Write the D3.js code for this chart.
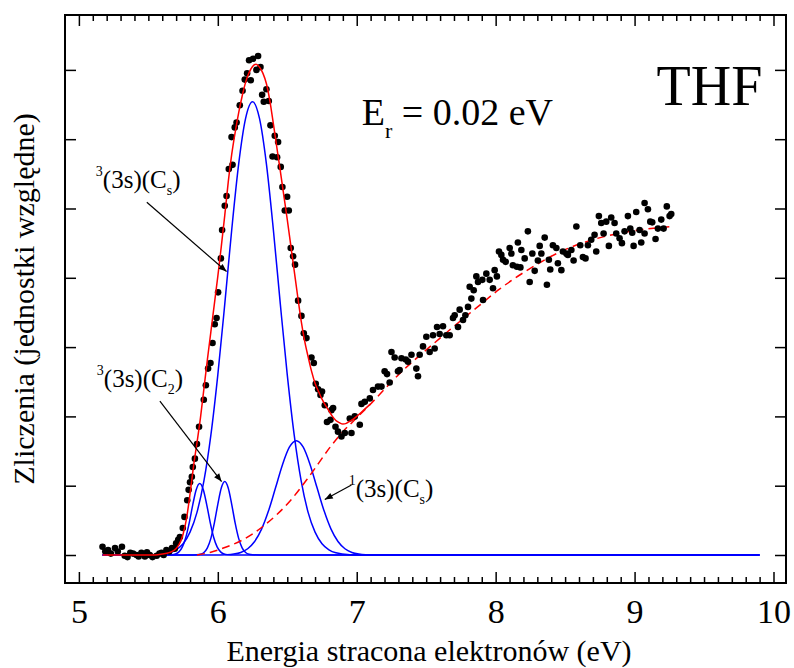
<!DOCTYPE html>
<html>
<head>
<meta charset="utf-8">
<script src="https://cdn.jsdelivr.net/npm/d3@7"></script>
</head>
<body style="margin:0;background:#fff">
<svg id="chart" width="794" height="668"></svg>
<script>
const serif = 'Liberation Serif';

// energia (eV) / zliczenia (j. wzgl.)
const xTicks = [5, 6, 7, 8, 9, 10];
const yTicks = [0, 1, 2, 3, 4, 5, 6, 7];

const measured = [
  [5.17,0.12],[5.19,0.05],[5.21,0.07],[5.23,0.02],[5.26,0.10],[5.28,0.05],[5.31,0.12],[5.33,-0.01],
  [5.35,-0.03],[5.37,0.03],[5.39,0.02],[5.415,0.00],[5.43,-0.02],[5.45,0.03],[5.475,-0.02],[5.49,0.04],
  [5.51,0.00],[5.53,-0.03],[5.56,-0.01],[5.58,0.02],[5.595,0.03],[5.61,0.00],[5.63,0.07],[5.65,0.05],
  [5.67,0.10],[5.69,0.09],[5.70,0.17],[5.715,0.22],[5.727,0.26],[5.748,0.39],[5.76,0.55],[5.78,0.79],
  [5.79,0.94],[5.80,1.05],[5.813,1.13],[5.82,1.27],[5.835,1.39],[5.85,1.60],[5.865,1.85],[5.899,2.24],
  [5.914,2.45],[5.930,2.69],[5.947,2.77],[5.962,3.06],[5.978,3.33],[5.991,3.42],[6.002,3.79],[6.022,4.28],
  [6.031,4.69],[6.050,5.04],[6.063,5.18],[6.079,5.57],[6.099,6.03],[6.106,5.63],[6.122,6.17],[6.135,6.24],
  [6.158,6.49],[6.178,6.70],[6.194,6.86],[6.211,6.95],[6.225,7.14],[6.237,6.85],[6.254,7.16],[6.278,7.00],
  [6.290,7.20],[6.307,7.04],[6.319,6.64],[6.331,6.54],[6.350,6.72],[6.367,6.55],[6.379,6.20],[6.394,5.75],
  [6.410,6.05],[6.427,5.74],[6.434,5.96],[6.453,5.60],[6.465,5.31],[6.482,4.97],[6.499,5.17],[6.511,4.97],
  [6.525,4.43],[6.542,4.31],[6.556,4.19],[6.578,3.67],[6.602,3.45],[6.619,3.20],[6.638,3.13],[6.674,2.85],
  [6.691,2.77],[6.705,2.47],[6.722,2.39],[6.739,2.31],[6.750,2.36],[6.770,2.16],[6.786,1.92],[6.811,1.95],
  [6.818,2.09],[6.830,2.12],[6.847,1.85],[6.865,1.78],[6.890,1.71],[6.914,1.76],[6.950,1.97],[6.962,1.76],
  [6.986,2.00],[7.022,1.88],[7.034,2.18],[7.058,2.21],[7.094,2.26],[7.117,2.38],[7.153,2.43],[7.178,2.43],
  [7.201,2.65],[7.218,2.61],[7.237,2.49],[7.250,2.93],[7.273,2.85],[7.297,2.65],[7.309,2.67],[7.322,2.84],
  [7.353,2.82],[7.369,2.79],[7.394,2.89],[7.429,2.69],[7.441,2.58],[7.453,2.89],[7.477,3.01],[7.501,3.15],
  [7.525,2.93],[7.549,3.17],[7.561,2.98],[7.578,3.29],[7.597,3.19],[7.621,3.30],[7.645,3.17],[7.669,3.17],
  [7.693,3.42],[7.705,3.46],[7.729,3.29],[7.741,3.54],[7.765,3.39],[7.782,3.46],[7.801,3.58],[7.813,3.87],
  [7.825,3.70],[7.842,3.82],[7.861,4.02],[7.873,3.94],[7.904,3.97],[7.909,3.68],[7.933,4.06],[7.957,3.97],
  [7.981,3.85],[7.993,4.11],[8.009,4.02],[8.024,4.38],[8.041,4.33],[8.053,4.26],[8.072,4.23],[8.101,4.43],
  [8.113,4.35],[8.124,4.18],[8.153,4.16],[8.160,4.51],[8.178,4.15],[8.185,4.40],[8.209,4.28],[8.232,4.67],
  [8.245,3.94],[8.264,4.35],[8.281,4.10],[8.304,4.25],[8.317,4.46],[8.329,4.35],[8.353,4.58],[8.369,3.90],
  [8.383,4.26],[8.393,4.12],[8.412,4.47],[8.437,4.43],[8.448,4.21],[8.473,4.11],[8.484,4.38],[8.509,4.35],
  [8.520,4.33],[8.545,4.40],[8.561,4.25],[8.581,4.74],[8.609,4.47],[8.628,4.30],[8.647,4.28],[8.664,4.47],
  [8.688,4.55],[8.712,4.62],[8.724,4.38],[8.743,4.89],[8.760,4.79],[8.777,4.64],[8.796,4.81],[8.815,4.46],
  [8.832,4.87],[8.856,4.79],[8.868,4.64],[8.892,4.57],[8.909,4.50],[8.928,4.67],[8.952,4.89],[8.969,4.71],
  [8.983,4.65],[8.993,4.46],[9.012,4.95],[9.036,4.69],[9.048,4.51],[9.072,4.64],[9.072,5.08],[9.096,4.99],
  [9.113,4.81],[9.127,4.80],[9.151,4.56],[9.168,4.71],[9.192,4.84],[9.209,4.71],[9.232,5.03],[9.252,4.89],
  [9.264,4.92]
];

// dopasowanie (czerwona linia ciagla)
const fitCurve = [
  [5.17,0],[5.55,0],[5.60,0.013],[5.65,0.034],[5.70,0.093],[5.725,0.168],[5.75,0.30],[5.775,0.53],
  [5.80,0.88],[5.825,1.28],[5.85,1.62],[5.875,1.98],[5.90,2.40],[5.925,2.82],[5.95,3.22],[5.975,3.62],
  [6.00,4.02],[6.025,4.45],[6.05,4.90],[6.075,5.38],[6.10,5.78],[6.125,6.10],[6.15,6.38],[6.175,6.62],
  [6.20,6.82],[6.225,6.96],[6.25,7.05],[6.275,7.08],[6.30,7.04],[6.325,6.95],[6.35,6.80],[6.375,6.55],
  [6.40,6.22],[6.425,5.88],[6.45,5.54],[6.475,5.19],[6.50,4.84],[6.525,4.47],[6.55,4.10],[6.575,3.73],
  [6.60,3.38],[6.625,3.09],[6.65,2.86],[6.675,2.65],[6.70,2.48],[6.725,2.36],[6.75,2.25],[6.775,2.16],
  [6.80,2.08],[6.825,2.00],[6.85,1.94],[6.875,1.91],[6.90,1.89],[6.925,1.90],[6.95,1.93],[6.975,1.96],
  [7.00,2.00],[7.05,2.09],[7.10,2.18]
];

// tlo (czerwona linia przerywana)
const background = [
  [5.85,0],[5.95,0.04],[6.04,0.10],[6.18,0.22],[6.33,0.42],[6.52,0.78],[6.66,1.14],[6.81,1.56],
  [6.90,1.78],[6.97,1.92],[7.10,2.18],[7.29,2.58],[7.60,3.13],[7.79,3.45],[7.87,3.58],[8.03,3.84],
  [8.22,4.10],[8.46,4.37],[8.70,4.55],[8.94,4.66],[9.26,4.74]
];

// skladowe (niebieskie)
const peakTripletCs = [
  [5.17,0],[5.45,0],[5.55,0.005],[5.65,0.032],[5.70,0.075],[5.75,0.163],[5.80,0.33],[5.85,0.615],
  [5.90,1.07],[5.95,1.73],[6.00,2.60],[6.05,3.62],[6.10,4.69],[6.15,5.64],[6.20,6.30],[6.25,6.54],
  [6.30,6.30],[6.35,5.64],[6.40,4.69],[6.45,3.62],[6.50,2.60],[6.55,1.73],[6.60,1.07],[6.65,0.615],
  [6.70,0.33],[6.75,0.163],[6.80,0.075],[6.85,0.032],[6.95,0.005],[7.05,0],[9.90,0]
];
const peakLow = [
  [5.17,0],[5.62,0],[5.67,0.004],[5.695,0.015],[5.72,0.045],[5.745,0.117],[5.77,0.257],[5.795,0.472],
  [5.82,0.728],[5.845,0.944],[5.87,1.03],[5.895,0.944],[5.92,0.728],[5.945,0.472],[5.97,0.257],
  [5.995,0.117],[6.02,0.045],[6.045,0.015],[6.07,0.004],[6.12,0],[9.90,0]
];
const peakTripletC2 = [
  [5.17,0],[5.80,0],[5.85,0.003],[5.875,0.011],[5.90,0.037],[5.925,0.104],[5.95,0.240],[5.975,0.460],
  [6.00,0.731],[6.025,0.966],[6.05,1.06],[6.075,0.966],[6.10,0.731],[6.125,0.460],[6.15,0.240],
  [6.175,0.104],[6.20,0.037],[6.225,0.011],[6.25,0.003],[6.30,0],[9.90,0]
];
const peakSingletCs = [
  [5.17,0],[5.965,0],[6.065,0.004],[6.115,0.013],[6.165,0.037],[6.215,0.090],[6.265,0.194],[6.315,0.373],
  [6.365,0.637],[6.415,0.966],[6.465,1.30],[6.515,1.555],[6.565,1.65],[6.615,1.555],[6.665,1.30],
  [6.715,0.966],[6.765,0.637],[6.815,0.373],[6.865,0.194],[6.915,0.090],[6.965,0.037],[7.015,0.013],
  [7.065,0.004],[7.165,0],[9.90,0]
];

// opisy: [x, y] poczatku tekstu, strzalka od -> do
const stateLabels = [
  { sup: '3', main: '(3s)(C', sub: 's', at: [5.122, 5.30], from: [5.489, 5.09], to: [6.063, 4.09] },
  { sup: '3', main: '(3s)(C', sub: '2', at: [5.129, 2.42], from: [5.583, 2.22], to: [6.027, 1.06] },
  { sup: '1', main: '(3s)(C', sub: 's', at: [6.942, 0.84], from: [6.962, 1.01], to: [6.770, 0.80] }
];

const svg = d3.select('#chart').attr('font-family', serif);

const x = d3.scaleLinear().domain([4.9, 10.09]).range([65, 786]);
const y = d3.scaleLinear().domain([-0.404, 7.792]).range([583, 15]);

const line = d3.line()
  .x(d => x(d[0]))
  .y(d => y(d[1]))
  .curve(d3.curveMonotoneX);

svg.append('defs').append('marker')
  .attr('id', 'arrow')
  .attr('viewBox', '0 0 10 10')
  .attr('refX', 10).attr('refY', 5)
  .attr('markerWidth', 10).attr('markerHeight', 8)
  .attr('markerUnits', 'userSpaceOnUse')
  .attr('orient', 'auto')
  .append('path')
  .attr('d', 'M0,1 L10,5 L0,9 Z')
  .attr('fill', '#000');

// Osie
const minorX = d3.range(50, 101).map(d => d / 10).filter(d => Math.abs(d - Math.round(d)) > 1e-6);

function styleAxis(g) {
  g.attr('font-family', serif);
  g.select('.domain').remove();
  g.selectAll('line').attr('stroke', '#000').attr('stroke-width', 1.5);
}

svg.append('g')
  .attr('transform', 'translate(0,583)')
  .call(d3.axisBottom(x).tickValues(minorX).tickSize(-6).tickFormat(''))
  .call(styleAxis);

svg.append('g')
  .attr('transform', 'translate(0,583)')
  .call(d3.axisBottom(x).tickValues(xTicks).tickSize(-11).tickPadding(16).tickFormat(d3.format('d')))
  .call(styleAxis)
  .call(g => g.selectAll('text')
    .attr('font-size', 34)
    .attr('font-family', serif)
    .attr('fill', '#000'));

svg.append('g')
  .attr('transform', 'translate(0,15)')
  .call(d3.axisTop(x).tickValues(minorX).tickSize(-6).tickFormat(''))
  .call(styleAxis);

svg.append('g')
  .attr('transform', 'translate(0,15)')
  .call(d3.axisTop(x).tickValues(xTicks).tickSize(-11).tickFormat(''))
  .call(styleAxis);

svg.append('g')
  .attr('transform', 'translate(65,0)')
  .call(d3.axisLeft(y).tickValues(yTicks).tickSize(-11).tickFormat(''))
  .call(styleAxis);

svg.append('g')
  .attr('transform', 'translate(786,0)')
  .call(d3.axisRight(y).tickValues(yTicks).tickSize(-11).tickFormat(''))
  .call(styleAxis);

// Krzywe
const plot = svg.append('g');

[peakTripletCs, peakLow, peakTripletC2, peakSingletCs].forEach(p => {
  plot.append('path')
    .datum(p)
    .attr('d', line)
    .attr('fill', 'none')
    .attr('stroke', '#0000ff')
    .attr('stroke-width', 1.5);
});

plot.append('path')
  .datum(background)
  .attr('d', line)
  .attr('fill', 'none')
  .attr('stroke', '#ff0000')
  .attr('stroke-width', 1.5)
  .attr('stroke-dasharray', '8,5');

plot.selectAll('circle')
  .data(measured)
  .enter()
  .append('circle')
  .attr('cx', d => x(d[0]))
  .attr('cy', d => y(d[1]))
  .attr('r', 3.3)
  .attr('fill', '#000');

plot.append('path')
  .datum(fitCurve)
  .attr('d', line)
  .attr('fill', 'none')
  .attr('stroke', '#ff0000')
  .attr('stroke-width', 1.5);

// Ramka
svg.append('rect')
  .attr('x', 65).attr('y', 15)
  .attr('width', 786 - 65).attr('height', 583 - 15)
  .attr('fill', 'none')
  .attr('stroke', '#000')
  .attr('stroke-width', 2);

// Opisy stanow
stateLabels.forEach(l => {
  svg.append('line')
    .attr('x1', x(l.from[0])).attr('y1', y(l.from[1]))
    .attr('x2', x(l.to[0])).attr('y2', y(l.to[1]))
    .attr('stroke', '#000')
    .attr('stroke-width', 1.2)
    .attr('marker-end', 'url(#arrow)');

  const t = svg.append('text')
    .attr('x', x(l.at[0]))
    .attr('y', y(l.at[1]))
    .attr('font-family', serif)
    .attr('font-size', 25);
  t.append('tspan').attr('font-size', 14).attr('dy', -12).text(l.sup);
  t.append('tspan').attr('dy', 12).text(l.main);
  t.append('tspan').attr('font-size', 14).attr('dy', 7).text(l.sub);
  t.append('tspan').attr('dy', -7).text(')');
});

const er = svg.append('text')
  .attr('x', x(7.036))
  .attr('y', y(6.205))
  .attr('font-family', serif)
  .attr('font-size', 38);
er.append('tspan').text('E');
er.append('tspan').attr('font-size', 22).attr('dy', 13).text('r');
er.append('tspan').attr('dy', -13).text(' = 0.02 eV');

svg.append('text')
  .attr('x', x(9.158))
  .attr('y', y(6.49))
  .attr('font-family', serif)
  .attr('font-size', 56)
  .text('THF');

// Tytuly osi
svg.append('text')
  .attr('x', 429)
  .attr('y', 661)
  .attr('text-anchor', 'middle')
  .attr('font-family', serif)
  .attr('font-size', 30)
  .text('Energia stracona elektronów (eV)');

svg.append('text')
  .attr('transform', 'translate(34,299) rotate(-90)')
  .attr('text-anchor', 'middle')
  .attr('font-family', serif)
  .attr('font-size', 30)
  .text('Zliczenia (jednostki względne)');
</script>
</body>
</html>
